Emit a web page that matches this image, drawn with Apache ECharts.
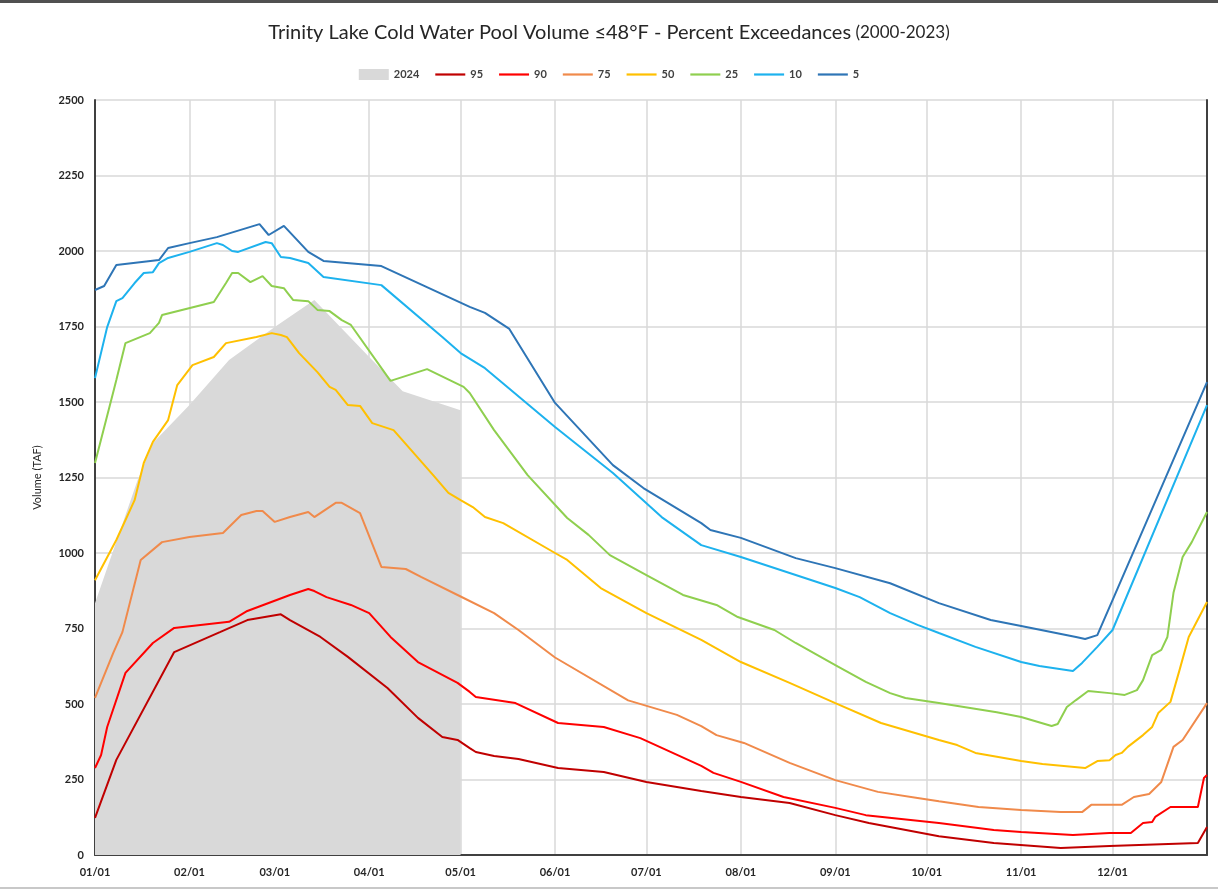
<!DOCTYPE html>
<html>
<head>
<meta charset="utf-8">
<script src="https://cdn.jsdelivr.net/npm/echarts@6/dist/echarts.min.js"></script>
<style>
  html, body { margin: 0; padding: 0; background: #fff; }
  #chart { width: 1218px; height: 892px; }
</style>
</head>
<body>
<div id="chart"></div>
<script>
// x = day of year (0 = Jan 1), y = volume in TAF
var monthDays = [0, 31, 59, 90, 120, 151, 181, 212, 243, 273, 304, 334]
var monthLabels = ['01/01', '02/01', '03/01', '04/01', '05/01', '06/01', '07/01', '08/01', '09/01', '10/01', '11/01', '12/01']

var data2024 = [[0, 834], [14, 1242], [19, 1364], [31, 1490], [44, 1639], [59, 1748], [72, 1838], [90, 1649], [101, 1536], [120, 1473]]

var p95 = [[0, 123], [7, 315], [26, 672], [41, 738], [50, 778], [61, 797], [64, 778], [74, 722], [83, 656], [96, 553], [106, 454], [114, 391], [119, 381], [123, 354], [125, 341], [131, 328], [139, 318], [152, 288], [167, 275], [181, 242], [199, 212], [212, 192], [228, 172], [243, 132], [254, 106], [277, 62], [295, 40], [317, 23], [333, 30], [362, 40], [365, 93]]

var p90 = [[0, 288], [2, 331], [4, 424], [10, 603], [19, 702], [26, 752], [44, 772], [50, 808], [64, 861], [70, 881], [72, 874], [76, 854], [84, 828], [90, 801], [97, 722], [106, 639], [119, 570], [123, 540], [125, 523], [138, 503], [152, 437], [167, 424], [179, 387], [199, 295], [203, 272], [212, 242], [226, 192], [243, 156], [253, 132], [277, 106], [295, 83], [304, 76], [321, 66], [333, 73], [340, 73], [344, 106], [347, 109], [348, 126], [353, 159], [362, 159], [364, 255], [365, 265]]

var p75 = [[0, 520], [2, 570], [6, 669], [9, 738], [15, 977], [22, 1036], [31, 1053], [42, 1066], [48, 1126], [53, 1139], [55, 1139], [59, 1103], [64, 1119], [70, 1136], [72, 1119], [79, 1166], [81, 1166], [87, 1132], [94, 954], [102, 947], [107, 921], [120, 856], [131, 801], [139, 745], [151, 654], [175, 512], [191, 464], [199, 427], [204, 397], [213, 371], [228, 305], [243, 248], [257, 209], [270, 189], [277, 178], [290, 159], [304, 149], [317, 142], [324, 142], [327, 166], [337, 166], [341, 192], [346, 202], [350, 242], [354, 358], [357, 381], [365, 503]]

var p50 = [[0, 910], [7, 1043], [13, 1175], [16, 1298], [19, 1368], [24, 1440], [27, 1556], [32, 1622], [39, 1649], [43, 1695], [53, 1715], [58, 1728], [61, 1722], [63, 1715], [67, 1662], [73, 1599], [77, 1550], [79, 1540], [83, 1490], [87, 1487], [91, 1430], [98, 1407], [111, 1258], [116, 1199], [120, 1175], [124, 1152], [128, 1119], [134, 1099], [151, 1000], [155, 977], [166, 884], [181, 801], [199, 712], [212, 639], [228, 570], [243, 503], [258, 437], [277, 381], [283, 364], [289, 338], [304, 311], [311, 301], [325, 288], [329, 311], [333, 314], [335, 331], [337, 338], [339, 358], [344, 397], [347, 424], [349, 470], [353, 507], [356, 613], [359, 722], [365, 838]]

var p25 = [[0, 1298], [6, 1533], [7, 1573], [10, 1695], [18, 1728], [21, 1762], [22, 1788], [39, 1831], [43, 1894], [45, 1927], [47, 1927], [51, 1897], [55, 1917], [58, 1884], [62, 1877], [63, 1864], [65, 1838], [70, 1834], [73, 1805], [77, 1801], [81, 1771], [84, 1755], [97, 1570], [109, 1609], [121, 1550], [123, 1530], [131, 1407], [142, 1258], [155, 1116], [162, 1060], [169, 993], [181, 927], [193, 861], [204, 828], [211, 788], [223, 745], [230, 702], [243, 629], [253, 573], [261, 536], [266, 520], [277, 503], [296, 473], [304, 457], [314, 427], [316, 434], [319, 490], [322, 513], [326, 543], [333, 536], [338, 530], [342, 546], [344, 579], [347, 662], [350, 679], [352, 722], [354, 868], [357, 987], [360, 1036], [365, 1136]]

var p10 = [[0, 1579], [4, 1748], [7, 1834], [9, 1844], [13, 1894], [16, 1927], [19, 1930], [21, 1960], [24, 1977], [31, 1997], [40, 2026], [42, 2020], [45, 2000], [47, 1997], [56, 2030], [58, 2026], [61, 1980], [64, 1977], [70, 1960], [75, 1914], [94, 1887], [114, 1715], [120, 1662], [128, 1612], [151, 1417], [170, 1265], [186, 1119], [199, 1026], [212, 987], [243, 884], [251, 854], [261, 801], [270, 762], [277, 735], [289, 689], [304, 639], [310, 626], [321, 609], [324, 636], [329, 689], [334, 745], [365, 1490]]

var p5 = [[0, 1871], [3, 1884], [7, 1954], [21, 1970], [24, 2010], [31, 2026], [40, 2046], [54, 2089], [57, 2053], [62, 2083], [70, 1997], [75, 1967], [94, 1950], [123, 1815], [128, 1795], [136, 1742], [151, 1497], [170, 1291], [180, 1215], [199, 1099], [202, 1076], [212, 1050], [230, 983], [243, 950], [261, 900], [277, 834], [294, 778], [304, 758], [322, 722], [325, 715], [329, 728], [334, 844], [365, 1566]]

var lineSeries = [
  {name: '95', color: '#C00000', data: p95},
  {name: '90', color: '#FF0000', data: p90},
  {name: '75', color: '#F08A4B', data: p75},
  {name: '50', color: '#FFC000', data: p50},
  {name: '25', color: '#8FCF4F', data: p25},
  {name: '10', color: '#1DB2EE', data: p10},
  {name: '5', color: '#2E75B6', data: p5}
]

var font = 'Lato, "Open Sans", sans-serif'
var lineIcon = 'path://M0,0L30,0L30,2.2L0,2.2Z'
var chart = echarts.init(document.getElementById('chart'))

var series = [{
  name: '2024',
  type: 'line',
  data: data2024,
  symbol: 'none',
  lineStyle: {width: 0},
  itemStyle: {color: '#D9D9D9'},
  areaStyle: {color: '#D9D9D9', opacity: 1},
  z: 1
}]
var legendData = [{name: '2024', icon: 'rect'}]
lineSeries.forEach(function (s) {
  series.push({
    name: s.name,
    type: 'line',
    data: s.data,
    symbol: 'none',
    itemStyle: {color: s.color},
    lineStyle: {color: s.color, width: 2},
    z: 3
  })
  legendData.push({name: s.name, icon: lineIcon})
})

chart.setOption({
  animation: false,
  textStyle: {fontFamily: font},
  title: {
    text: '{a|Trinity Lake Cold Water Pool Volume ≤48°F - Percent Exceedances} {b|(2000-2023)}',
    left: 'center',
    top: 18,
    textStyle: {
      rich: {
        a: {fontSize: 20, fontWeight: 'normal', color: '#262626', fontFamily: font},
        b: {fontSize: 17, fontWeight: 'normal', color: '#262626', fontFamily: font}
      }
    }
  },
  legend: {
    top: 64,
    left: 'center',
    itemWidth: 30,
    itemHeight: 11,
    itemGap: 16,
    symbolKeepAspect: true,
    textStyle: {fontSize: 11, fontWeight: 'bold', color: '#404040'},
    data: legendData
  },
  grid: {left: 95, right: 11, top: 100, bottom: 37},
  xAxis: {
    type: 'value',
    min: 0,
    max: 365,
    axisLine: {lineStyle: {color: '#404040', width: 2}},
    axisTick: {show: false, customValues: monthDays},
    axisLabel: {
      customValues: monthDays,
      margin: 12,
      fontSize: 11,
      fontWeight: 'bold',
      color: '#262626',
      formatter: function (v) { return monthLabels[monthDays.indexOf(v)] }
    },
    splitLine: {show: true, lineStyle: {color: '#D9D9D9', width: 1.5}}
  },
  yAxis: [{
    type: 'value',
    min: 0,
    max: 2500,
    interval: 250,
    name: 'Volume (TAF)',
    nameLocation: 'middle',
    nameGap: 52,
    nameTextStyle: {fontSize: 11, color: '#262626'},
    axisLine: {show: true, lineStyle: {color: '#404040', width: 2}},
    axisTick: {show: false},
    axisLabel: {
      fontSize: 11,
      fontWeight: 'bold',
      color: '#262626',
      margin: 11,
      formatter: function (v) { return String(v) }
    },
    splitLine: {lineStyle: {color: '#D9D9D9', width: 1.5}}
  }, {
    type: 'value',
    position: 'right',
    min: 0,
    max: 2500,
    axisLine: {show: true, lineStyle: {color: '#404040', width: 2}},
    axisTick: {show: false},
    axisLabel: {show: false},
    splitLine: {show: false}
  }],
  graphic: [
    {type: 'rect', left: 0, top: 0, shape: {width: 1218, height: 3}, style: {fill: '#505050'}},
    {type: 'rect', left: 0, top: 887, shape: {width: 1218, height: 2}, style: {fill: '#C8C8C8'}}
  ],
  series: series
})
</script>
</body>
</html>
